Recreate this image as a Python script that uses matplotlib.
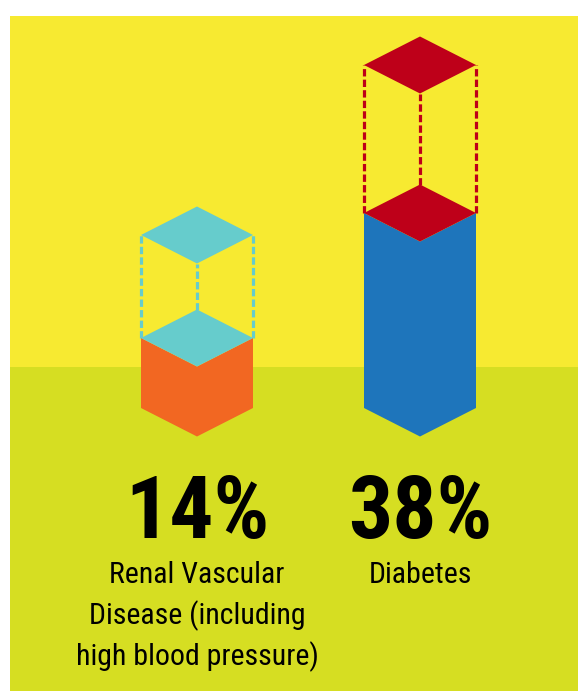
import matplotlib
matplotlib.use("Agg")
import matplotlib.pyplot as plt
from matplotlib.patches import Polygon, Rectangle
from matplotlib import font_manager as fm

# ---------------- data ----------------
categories = ["Renal Vascular Disease (including high blood pressure)", "Diabetes"]
percent_labels = ["14%", "38%"]
label_lines = [["Renal Vascular", "Disease (including", "high blood pressure)"],
               ["Diabetes"]]
filled_heights = [70, 195]      # height of solid column (drawing units)
outline_heights = [173, 343]    # height of dashed "ghost" column (drawing units)
x_centers = [197, 420]
side_colors = ["#F26722", "#1E75BB"]
top_colors = ["#66CCCC", "#BE0019"]

# ---------------- style ----------------
W, H = 578, 691
base_px = 408           # ground line (pixel row from top)
half_w = 56
half_h = 28.5
yellow = "#F7EA31"
green = "#D6DE22"

names = {f.name for f in fm.fontManager.ttflist}
font_kw = {}
for cand in ["Roboto Condensed", "Liberation Sans Narrow", "Open Sans Condensed", "Noto Sans Condensed"]:
    if cand in names:
        font_kw = {"family": cand}
        break
else:
    if any(f.name == "DejaVu Sans" and str(f.stretch) == "condensed" for f in fm.fontManager.ttflist):
        font_kw = {"family": "DejaVu Sans", "stretch": "condensed"}
    else:
        font_kw = {"family": "Roboto"}

fig = plt.figure(figsize=(W / 100, H / 100), dpi=100)
ax = fig.add_axes([0, 0, 1, 1])
ax.set_xlim(0, W)
ax.set_ylim(-(H - base_px), base_px)   # y=0 at ground, up positive
ax.axis("off")

# panel background
ax.add_patch(Rectangle((10, 0), W - 10, base_px - 15.5, facecolor=yellow, edgecolor="none", zorder=0))
ax.add_patch(Rectangle((10, -(H - base_px)), W - 10, (H - base_px) + (base_px - 366.5),
                       facecolor=green, edgecolor="none", zorder=0.5))


def diamond(xc, y, color, z=3):
    pts = [(xc, y + half_h), (xc + half_w, y), (xc, y - half_h), (xc - half_w, y)]
    ax.add_patch(Polygon(pts, closed=True, facecolor=color, edgecolor="none", zorder=z))


for i in range(len(categories)):
    xc = x_centers[i]
    hf = filled_heights[i]
    ho = outline_heights[i]
    # solid column (hexagon silhouette)
    pts = [(xc - half_w, 0), (xc, -half_h), (xc + half_w, 0),
           (xc + half_w, hf), (xc, hf - half_h), (xc - half_w, hf)]
    ax.add_patch(Polygon(pts, closed=True, facecolor=side_colors[i], edgecolor="none", zorder=2))
    diamond(xc, hf, top_colors[i])
    # dashed edges up to ghost top
    for dx, y0, y1 in [(-half_w, hf, ho), (half_w, hf, ho), (0, hf + half_h, ho - half_h)]:
        ax.plot([xc + dx, xc + dx], [y0, y1], color=top_colors[i], lw=2.3,
                linestyle=(0, (2.3, 1.0)), solid_capstyle="butt", zorder=1.5)
    diamond(xc, ho, top_colors[i])

    # texts
    ax.text(xc, base_px - 538, percent_labels[i], ha="center", va="baseline",
            fontsize=63, fontweight="bold", color="black", **font_kw)
    for j, line in enumerate(label_lines[i]):
        ax.text(xc, base_px - (583 + 41 * j), line, ha="center", va="baseline",
                fontsize=21.5, color="black", **font_kw)

fig.savefig("out.png", dpi=100, facecolor="white")
